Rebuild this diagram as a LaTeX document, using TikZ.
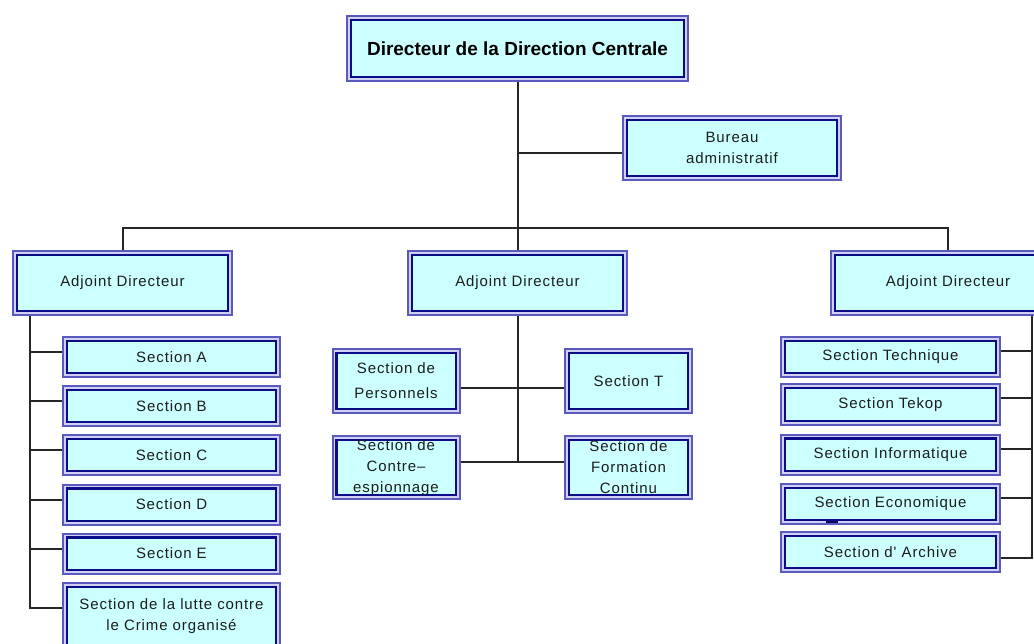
\documentclass[tikz,border=0pt]{standalone}
\usepackage{fontspec}
\setmainfont{Liberation Sans}
\newfontfamily\boxfont[LetterSpace=6]{Liberation Sans}

\definecolor{boxfill}{HTML}{CCFFFF}
\definecolor{frameout}{HTML}{5A5ABE}
\definecolor{frameband}{HTML}{D0D0F2}
\definecolor{framein}{HTML}{0C0C88}
\definecolor{linkgray}{HTML}{262626}
\definecolor{labelgray}{HTML}{1C1C1C}

\tikzset{
  orgbox/.style={rectangle, draw=frameout, line width=2pt, fill=frameband,
    inner sep=2pt, align=center, text=labelgray,
    font=\boxfont\fontsize{15}{21}\selectfont,
    path picture={\draw[framein, line width=2.4pt, fill=boxfill]
      ([shift={(3.8pt,-3.8pt)}]path picture bounding box.north west) rectangle
      ([shift={(-3.8pt,3.8pt)}]path picture bounding box.south east);}},
  titlebox/.style={orgbox, text=black, font=\bfseries\fontsize{19}{23}\selectfont},
  link/.style={draw=linkgray, line width=2pt},
}

\begin{document}
\begin{tikzpicture}[x=1pt, y=-1pt]
\useasboundingbox (0,0) rectangle (1034,644);
\clip (0,0) rectangle (1034,644);

% top of the chart
\node[titlebox, minimum width=341, minimum height=65] (top) at (517.5,48.5)
  {Directeur de la Direction Centrale};
\node[orgbox, minimum width=218, minimum height=64] (bureau) at (732,148)
  {Bureau\\administratif};
\coordinate (bus) at (517.5,228);

% the three deputies
\node[orgbox, minimum width=219, minimum height=64] (adL) at (122.5,283) {Adjoint Directeur};
\node[orgbox, minimum width=219, minimum height=64] (adM) at (517.5,283) {Adjoint Directeur};
\node[orgbox, minimum width=234, minimum height=64] (adR) at (948,283) {Adjoint Directeur};

% left column
\node[orgbox, minimum width=217, minimum height=40] (secA) at (171.5,357) {Section A};
\node[orgbox, minimum width=217, minimum height=40] (secB) at (171.5,406) {Section B};
\node[orgbox, minimum width=217, minimum height=40] (secC) at (171.5,455) {Section C};
\node[orgbox, minimum width=217, minimum height=40] (secD) at (171.5,504.5) {Section D};
\node[orgbox, minimum width=217, minimum height=40] (secE) at (171.5,553.5) {Section E};
\node[orgbox, minimum width=217, minimum height=66] (crime) at (171.5,616)
  {Section de la lutte contre\\le Crime organisé};

% middle group
\node[orgbox, minimum width=127, minimum height=64,
  font=\boxfont\fontsize{15}{25}\selectfont] (pers) at (396,381) {Section de\\Personnels};
\node[orgbox, minimum width=127, minimum height=64] (secT) at (628.5,381) {Section T};
\node[orgbox, minimum width=127, minimum height=63] (contre) at (396,467.5)
  {Section de\\Contre–\\espionnage};
\node[orgbox, minimum width=127, minimum height=63] (form) at (628.5,467.5)
  {Section de\\Formation\\Continu};

% right column
\node[orgbox, minimum width=219, minimum height=40] (tech) at (890.5,357) {Section Technique};
\node[orgbox, minimum width=219, minimum height=40] (tekop) at (890.5,404.5) {Section Tekop};
\node[orgbox, minimum width=219, minimum height=40] (info) at (890.5,454.5) {Section Informatique};
\node[orgbox, minimum width=219, minimum height=40] (eco) at (890.5,504) {Section Economique};
\node[orgbox, minimum width=219, minimum height=40] (arch) at (890.5,552) {Section d' Archive};

% upper links
\draw[link] (top.south) -- (top.south |- adM.north);
\draw[link] (adL.north) |- (bus) -| (adR.north);
\draw[link] ([yshift=-5pt]bureau.west) -- ([yshift=-5pt]bureau.west -| top.south);

% left trunk
\coordinate (lt) at ([xshift=18pt]adL.south west);
\draw[link] (lt) |- ([yshift=8pt]crime.west);
\foreach \s in {secA,secB,secC,secD,secE}
  \draw[link] ([yshift=5pt]\s.west) -| (lt);

% middle trunk
\draw[link] (adM.south) |- ([yshift=6pt]form.west);
\draw[link] ([yshift=-7pt]pers.east) -- ([yshift=-7pt]secT.west);
\draw[link] ([yshift=6pt]contre.east) -- ([yshift=6pt]form.west);

% right trunk
\coordinate (rt) at ([xshift=-34pt]adR.south east);
\draw[link] (rt) |- ([yshift=-6pt]arch.east);
\foreach \s in {tech,tekop,info,eco}
  \draw[link] ([yshift=6pt]\s.east) -| (rt);

% small stroke under the economics box
\draw[framein!70!black, line width=1.5pt] (826,522) -- (838,522);
\end{tikzpicture}
\end{document}
